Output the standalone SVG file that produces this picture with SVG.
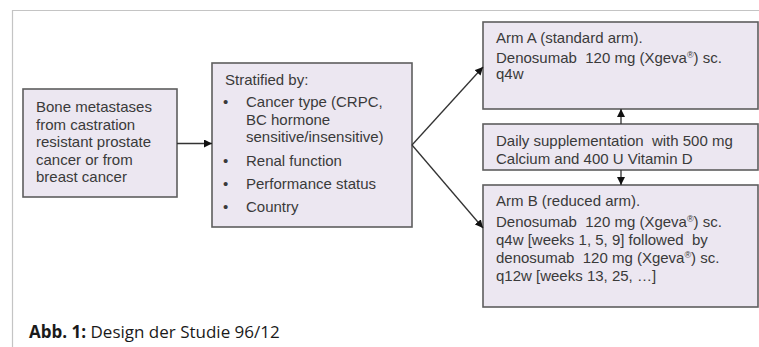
<svg xmlns="http://www.w3.org/2000/svg" width="759" height="347" viewBox="0 0 759 347">
<style>
.box{fill:#ece7f1;stroke:#5e5e5e;stroke-width:1.6}
.t{font-family:"Liberation Sans",Arial,sans-serif;font-size:15px;fill:#3a3a3a}
.sup{font-size:9px}
.con{stroke:#333;stroke-width:1.3;fill:none}
.cap{font-family:"Open Sans","Liberation Sans",sans-serif;font-size:17px;fill:#1a1a1a}
</style>
<defs>
<marker id="ah" viewBox="0 0 10 10" refX="10" refY="5" markerWidth="8" markerHeight="8" markerUnits="userSpaceOnUse" orient="auto">
<path d="M0,0 L10,5 L0,10 z" fill="#111"/>
</marker>
</defs>
<g id="frame">
<path d="M12.5,347 V10.5 H759" fill="none" stroke="#c4c4c4" stroke-width="1.2"/>
</g>
<g id="n_population">
<rect class="box" x="23" y="89" width="154" height="108"/>
<text class="t" x="36" y="112">Bone metastases</text>
<text class="t" x="36" y="129.5">from castration</text>
<text class="t" x="36" y="147">resistant prostate</text>
<text class="t" x="36" y="164.5">cancer or from</text>
<text class="t" x="36" y="182">breast cancer</text>
</g>
<g id="n_stratified">
<rect class="box" x="212" y="63" width="200" height="164"/>
<text class="t" x="225" y="85">Stratified by:</text>
<text class="t" x="223" y="107">•</text>
<text class="t" x="246" y="107">Cancer type (CRPC,</text>
<text class="t" x="246" y="124.5">BC hormone</text>
<text class="t" x="246" y="142">sensitive/insensitive)</text>
<text class="t" x="223" y="166">•</text>
<text class="t" x="246" y="166">Renal function</text>
<text class="t" x="223" y="188.5">•</text>
<text class="t" x="246" y="188.5">Performance status</text>
<text class="t" x="223" y="211.5">•</text>
<text class="t" x="246" y="211.5">Country</text>
</g>
<g id="n_armA">
<rect class="box" x="483" y="22" width="275" height="87"/>
<text class="t" x="496" y="43">Arm A (standard arm).</text>
<text class="t" x="496" y="63" xml:space="preserve">Denosumab  120 mg (Xgeva<tspan class="sup" dy="-5">®</tspan><tspan dy="5">) sc.</tspan></text>
<text class="t" x="496" y="79">q4w</text>
</g>
<g id="n_supplement">
<rect class="box" x="483" y="124" width="275" height="46"/>
<text class="t" x="496" y="146" xml:space="preserve">Daily supplementation  with 500 mg</text>
<text class="t" x="496" y="163.5">Calcium and 400 U Vitamin D</text>
</g>
<g id="n_armB">
<rect class="box" x="483" y="185" width="275" height="122"/>
<text class="t" x="496" y="206">Arm B (reduced arm).</text>
<text class="t" x="496" y="227" xml:space="preserve">Denosumab  120 mg (Xgeva<tspan class="sup" dy="-5">®</tspan><tspan dy="5">) sc.</tspan></text>
<text class="t" x="496" y="245" xml:space="preserve">q4w [weeks 1, 5, 9] followed  by</text>
<text class="t" x="496" y="263" xml:space="preserve">denosumab  120 mg (Xgeva<tspan class="sup" dy="-5">®</tspan><tspan dy="5">) sc.</tspan></text>
<text class="t" x="496" y="281">q12w [weeks 13, 25, …]</text>
</g>
<g id="connectors">
<line class="con" x1="177" y1="143.5" x2="212" y2="143.5" marker-end="url(#ah)"/>
<line class="con" x1="412" y1="145" x2="483" y2="67" marker-end="url(#ah)"/>
<line class="con" x1="412" y1="145" x2="483" y2="228" marker-end="url(#ah)"/>
<line class="con" x1="621" y1="124" x2="621" y2="109" marker-end="url(#ah)"/>
<line class="con" x1="621" y1="170" x2="621" y2="185" marker-end="url(#ah)"/>
</g>
<g id="caption">
<text class="cap" x="29" y="338"><tspan font-weight="bold">Abb. 1:</tspan> Design der Studie 96/12</text>
</g>
</svg>
